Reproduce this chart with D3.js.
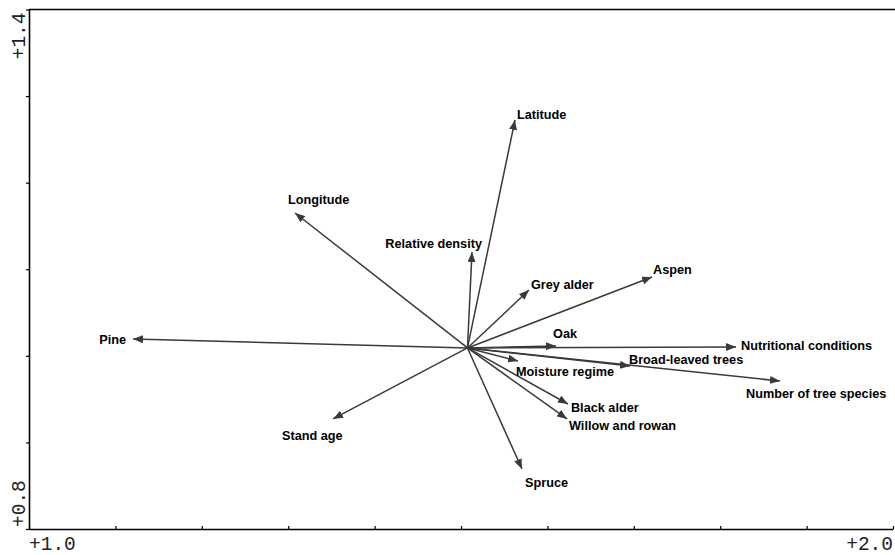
<!DOCTYPE html>
<html>
<head>
<meta charset="utf-8">
<script src="https://cdn.jsdelivr.net/npm/d3@7"></script>
<style>
  body { margin: 0; background: #fff; }
  svg { display: block; }
  .lbl { font-family: "Liberation Sans", Arial, sans-serif; font-weight: bold; font-size: 12.7px; fill: #000; }
  .axlbl { font-family: "Liberation Mono", monospace; font-size: 19.5px; fill: #222; }
</style>
</head>
<body>
<svg id="chart" width="895" height="555"></svg>
<script>
// ---- data ------------------------------------------------------------------
const variables = [
  "Latitude", "Longitude", "Relative density", "Grey alder", "Aspen", "Pine",
  "Oak", "Nutritional conditions", "Broad-leaved trees", "Number of tree species",
  "Moisture regime", "Black alder", "Willow and rowan", "Stand age", "Spruce"
];
// arrow tips in axis units
const tipX = [1.5625, 1.3079, 1.5127, 1.5787, 1.7211, 1.1204,
              1.6100, 1.8183, 1.6956, 1.8692,
              1.5660, 1.6238, 1.6227, 1.3519, 1.5706];
const tipY = [1.2724, 1.1650, 1.1199, 1.0760, 1.0911, 1.0195,
              1.0114, 1.0102, 0.9883, 0.9709,
              0.9940, 0.9444, 0.9271, 0.9271, 0.8693];
// common origin of all arrows
const originXY = [1.5075, 1.0091];
const xDomain = [1.0, 2.0], yDomain = [0.8, 1.4];
const xEndLabels = ["+1.0", "+2.0"], yEndLabels = ["+0.8", "+1.4"];

// ---- layout ----------------------------------------------------------------
const X0 = 29, X1 = 893, Y0 = 529, Y1 = 9.5;
// label placement relative to tip: [dx, dy, anchor]
const labelPos = {
  "Latitude": [2, -5, "start"],
  "Longitude": [-7, -13, "start"],
  "Relative density": [10, -8, "end"],
  "Grey alder": [2, -5, "start"],
  "Aspen": [1, -7, "start"],
  "Pine": [-7, 1, "end"],
  "Oak": [-3, -12, "start"],
  "Nutritional conditions": [5, -1, "start"],
  "Broad-leaved trees": [-1, -6, "start"],
  "Number of tree species": [-34, 13, "start"],
  "Moisture regime": [-2, 11, "start"],
  "Black alder": [3, 4, "start"],
  "Willow and rowan": [2, 7, "start"],
  "Stand age": [-51, 17, "start"],
  "Spruce": [3, 14, "start"]
};

const svg = d3.select("#chart");
const x = d3.scaleLinear().domain(xDomain).range([X0, X1]);
const y = d3.scaleLinear().domain(yDomain).range([Y0, Y1]);

// top frame line
svg.append("line")
    .attr("x1", X0).attr("x2", 895).attr("y1", Y1).attr("y2", Y1)
    .attr("stroke", "#000").attr("stroke-width", 1.3);

// axes
const xAxis = svg.append("g").attr("transform", "translate(0," + Y0 + ")")
    .call(d3.axisBottom(x).ticks(10).tickSize(-3).tickSizeOuter(0).tickFormat(""));
const yAxis = svg.append("g").attr("transform", "translate(" + X0 + ",0)")
    .call(d3.axisLeft(y).ticks(6).tickSize(3).tickSizeOuter(0).tickFormat(""));
for (let ax of [xAxis, yAxis])
{
  ax.select(".domain").attr("stroke", "#000").attr("stroke-width", 1.6);
  ax.selectAll(".tick line").attr("stroke", "#000").attr("stroke-width", 1.2);
}

// end labels
svg.append("text").attr("class", "axlbl").attr("x", x(xDomain[0])).attr("y", 550)
    .attr("text-anchor", "start").text(xEndLabels[0]);
svg.append("text").attr("class", "axlbl").attr("x", x(xDomain[1])).attr("y", 550)
    .attr("text-anchor", "end").text(xEndLabels[1]);
svg.append("text").attr("class", "axlbl")
    .attr("transform", "translate(25," + (y(yDomain[0]) - 2) + ") rotate(-90)")
    .attr("text-anchor", "start").text(yEndLabels[0]);
svg.append("text").attr("class", "axlbl")
    .attr("transform", "translate(25," + (y(yDomain[1]) + 3) + ") rotate(-90)")
    .attr("text-anchor", "end").text(yEndLabels[1]);

// arrowhead
svg.append("defs").append("marker")
    .attr("id", "head").attr("viewBox", "0 0 10 8")
    .attr("refX", 10).attr("refY", 4)
    .attr("markerWidth", 10).attr("markerHeight", 8)
    .attr("markerUnits", "userSpaceOnUse").attr("orient", "auto")
    .append("path").attr("d", "M0,0 L10,4 L0,8 Z").attr("fill", "#3a3a3a");

const data = variables.map((name, i) => ({ name, tx: tipX[i], ty: tipY[i] }));

svg.append("g").selectAll("line").data(data).enter().append("line")
    .attr("x1", x(originXY[0])).attr("y1", y(originXY[1]))
    .attr("x2", d => x(d.tx)).attr("y2", d => y(d.ty))
    .attr("stroke", "#3a3a3a").attr("stroke-width", 1.5)
    .attr("marker-end", "url(#head)");

svg.append("g").selectAll("text").data(data).enter().append("text")
    .attr("class", "lbl")
    .attr("x", d => x(d.tx) + labelPos[d.name][0])
    .attr("y", d => y(d.ty) + labelPos[d.name][1])
    .attr("dy", "0.35em")
    .attr("text-anchor", d => labelPos[d.name][2])
    .text(d => d.name);
</script>
</body>
</html>
